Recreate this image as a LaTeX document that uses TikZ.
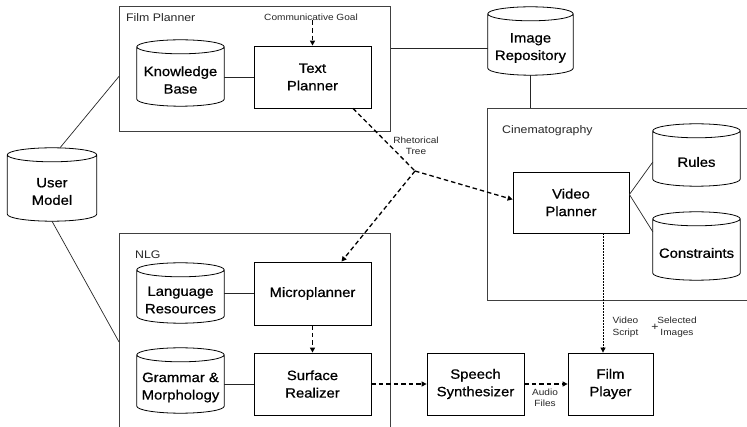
\documentclass[tikz,border=0pt]{standalone}
\usepackage{fontspec}
\setmainfont[FakeStretch=1.12]{Liberation Sans}
\newfontfamily\dgheavy[FakeStretch=1.1,FakeBold=0.7]{Liberation Sans}
\usetikzlibrary{arrows.meta,calc}

\newcommand\dgnodefont{\dgheavy\fontsize{13.5}{17.5}\selectfont}
\newcommand\dbdraw[1]{%
  \draw[dbline] let \p1=(#1.north west), \p2=(#1.south east), \n1={(\x2-\x1)/2} in
    (\x1,\y1+7pt) -- (\x1,\y2+7pt)
    arc[start angle=180,end angle=360,x radius=\n1,y radius=7pt]
    -- (\x2,\y1+7pt)
    arc[start angle=0,end angle=360,x radius=\n1,y radius=7pt];}

\tikzset{
  box/.style={draw, line width=0.8pt, minimum width=117pt, minimum height=62pt,
              inner sep=0pt, align=center, font=\dgnodefont},
  db/.style={inner sep=0pt, align=center, font=\dgnodefont, minimum width=87pt},
  dbline/.style={line width=0.8pt},
  container/.style={draw=black!75, line width=0.8pt, inner sep=0pt},
  clabel/.style={font=\fontsize{11}{13}\selectfont, anchor=west, inner sep=0pt, text=black!85},
  small/.style={font=\fontsize{9}{11.5}\selectfont, align=center, inner sep=0pt, text=black!85},
  link/.style={line width=0.7pt, draw=black!85},
  flow/.style={line width=1.3pt, dash pattern=on 4.5pt off 3pt,
               -{Triangle[length=5pt,width=5pt]}},
  flowline/.style={line width=1.3pt, dash pattern=on 4.5pt off 3pt},
  thinflow/.style={line width=0.8pt, dash pattern=on 1.5pt off 1.5pt,
               -{Triangle[length=5pt,width=5pt]}}
}

\begin{document}
\begin{tikzpicture}[x=1pt,y=1pt]
\path[use as bounding box, clip] (0,0) rectangle (747,-427);

% containers
\node[container, anchor=north west, minimum width=271pt, minimum height=125pt] (fp) at (119,-6) {};
\node[container, anchor=north west, minimum width=266pt, minimum height=192pt] (cine) at (487,-108) {};
\node[container, anchor=north west, minimum width=271pt, minimum height=210pt] (nlg) at (119,-233) {};
\node[clabel] (fplab) at (126,-18) {Film Planner};
\node[clabel] (cinelab) at (502,-131) {Cinematography};
\node[clabel] (nlglab) at (135,-255) {NLG};

% databases
\node[db, minimum height=52pt] (kb) at (180.5,-80) {Knowledge\\Base};
\node[db, minimum width=85pt, minimum height=54pt] (ir) at (530.5,-48) {Image\\Repository};
\node[db, minimum width=89pt, minimum height=59pt] (um) at (52,-191.5) {User\\Model};
\node[db, minimum height=48pt] (rules) at (696.5,-162) {Rules};
\node[db, minimum height=54pt] (cons) at (696.5,-253) {Constraints};
\node[db, minimum height=46pt] (lr) at (180.5,-300) {Language\\Resources};
\node[db, minimum height=51pt] (gm) at (180.5,-387.5) {Grammar \&\\Morphology};
\dbdraw{kb}
\dbdraw{ir}
\dbdraw{um}
\dbdraw{rules}
\dbdraw{cons}
\dbdraw{lr}
\dbdraw{gm}

% processes
\node[box] (tp) at (312.5,-77) {Text\\Planner};
\node[box, minimum width=116pt, minimum height=61pt] (vp) at (571,-202.5) {Video\\Planner};
\node[box, minimum height=63pt] (mp) at (312.5,-293.5) {Microplanner};
\node[box] (sr) at (312.5,-384) {Surface\\Realizer};
\node[box, minimum width=97pt] (ss) at (475.5,-384) {Speech\\Synthesizer};
\node[box, minimum width=85pt] (fpl) at (610.5,-384) {Film\\Player};

% small labels
\node[small] (cg) at (311,-17) {Communicative Goal};
\node[small] (rt) at (416,-146) {Rhetorical\\Tree};
\node[small] (af) at (545,-398) {Audio\\Files};
\node[small] (vs) at (625.5,-327) {Video\\Script};
\node[small, font=\fontsize{11}{13}\selectfont] (plus) at (655,-327) {+};
\node[small] (si) at (677,-327) {Selected\\Images};

\coordinate (j) at (415,-171);

% solid links
\draw[link] ([shift={(8pt,14pt)}]um.north) -- ([yshift=-7.5pt]fp.west);
\draw[link] (um.south) -- ([yshift=-3.5pt]nlg.west);
\draw[link] (kb.east |- tp.west) -- (tp.west);
\draw[link] (ir.west -| fp.east) -- (ir.west);
\draw[link] (ir.south) -- (ir.south |- cine.north);
\draw[link] ([yshift=8pt]vp.east) -- (rules.west);
\draw[link] ([yshift=8pt]vp.east) -- ([yshift=-6pt]cons.north west);
\draw[link] (lr.east |- mp.west) -- (mp.west);
\draw[link] (gm.east |- sr.west) -- (sr.west);

% flows
\draw[flow] (cg.south -| tp.north) -- (tp.north);
\draw[flowline] ([xshift=40.5pt]tp.south) -- (j);
\draw[flow] (j) -- ([yshift=3pt]vp.west);
\draw[flow] (j) -- ([xshift=29pt]mp.north);
\draw[flow] (mp.south) -- (sr.north);
\draw[flow] (sr.east) -- (ss.west);
\draw[flow] (ss.east) -- (fpl.west);
\draw[thinflow] ([xshift=32pt]vp.south) -- ([xshift=32pt]vp.south |- fpl.north);
\end{tikzpicture}
\end{document}
